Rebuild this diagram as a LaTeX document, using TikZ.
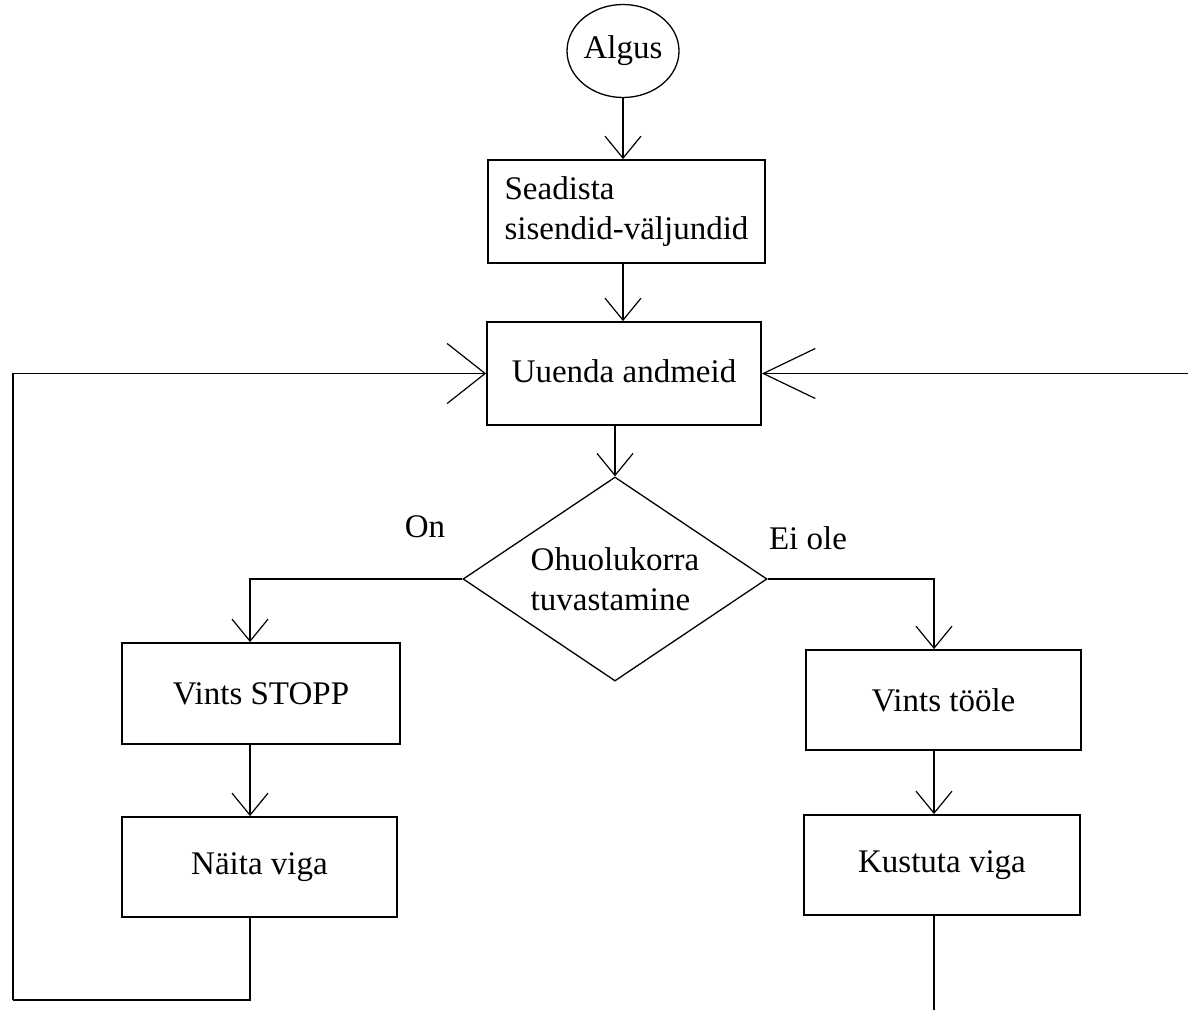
\documentclass[tikz,border=0pt]{standalone}
\usepackage{fontspec}
\setmainfont{Liberation Serif}
\usetikzlibrary{shapes.geometric,arrows.meta}
\begin{document}
\begin{tikzpicture}[x=1pt,y=-1pt,
  txt/.style={font=\fontsize{33}{40}\selectfont, text=black},
  procbox/.style={txt, draw, line width=1.8pt, inner sep=0pt, align=center},
  decision/.style={txt, draw, line width=1.3pt, shape=diamond, aspect=1.5, inner sep=0pt,
    minimum width=304pt, minimum height=204pt, align=left},
  terminal/.style={txt, draw, line width=1.3pt, shape=ellipse, inner sep=0pt,
    minimum width=112pt, minimum height=93pt},
  conn/.style={line width=1.8pt},
  arr/.style={conn, -{Straight Barb[length=22pt,width=36pt,line width=1.2pt]}},
  bigarrL/.style={conn, -{Straight Barb[length=38pt,width=60pt,line width=1.2pt]}},
  bigarrR/.style={conn, -{Straight Barb[length=52pt,width=50pt,line width=1.2pt]}}
]
\useasboundingbox (0,0) rectangle (1188,1009);
\clip (0,0) rectangle (1188,1009);
\fill[white] (0,0) rectangle (1188,1009);

\node[terminal] (algus) at (623,51) {Algus};
\node[procbox, minimum width=277pt, minimum height=103pt, align=left] (seadista) at (626.5,211.5) {Seadista\\sisendid-väljundid};
\node[procbox, minimum width=274pt, minimum height=103pt] (uuenda) at (624,373.5) {\raisebox{5pt}{Uuenda andmeid}};
\node[decision] (ohu) at (615,579) {Ohuolukorra\\tuvastamine};
\node[procbox, minimum width=278pt, minimum height=101pt] (stopp) at (261,693.5) {Vints STOPP};
\node[procbox, minimum width=275pt, minimum height=100pt] (naita) at (259.5,867) {Näita viga};
\node[procbox, minimum width=275pt, minimum height=100pt] (toole) at (943.5,700) {Vints tööle};
\node[procbox, minimum width=276pt, minimum height=100pt] (kustuta) at (942,865) {Kustuta viga};

\node[txt] (on) at (425,527) {On};
\node[txt] (eiole) at (808,538) {Ei ole};

\coordinate (xL) at (250,0);
\coordinate (xR) at (934,0);
\coordinate (lowL) at (13,1000);
\coordinate (lowR) at (1210,1040);

\draw[arr] (algus.south) -- (algus |- seadista.north);
\draw[arr] (algus |- seadista.south) -- (algus |- uuenda.north);
\draw[arr] (uuenda.south -| ohu.north) -- (ohu.north);
\draw[arr] (ohu.west) -| (stopp.north -| xL);
\draw[arr] (ohu.east) -| (toole.north -| xR);
\draw[arr] (stopp.south -| xL) -- (naita.north -| xL);
\draw[arr] (toole.south -| xR) -- (kustuta.north -| xR);
\draw[conn] (naita.south -| xL) |- (lowL);
\draw[bigarrL] (lowL) |- (uuenda.west);
\draw[conn] (kustuta.south -| xR) |- (lowR);
\draw[bigarrR] (lowR) |- (uuenda.east);
\end{tikzpicture}
\end{document}
